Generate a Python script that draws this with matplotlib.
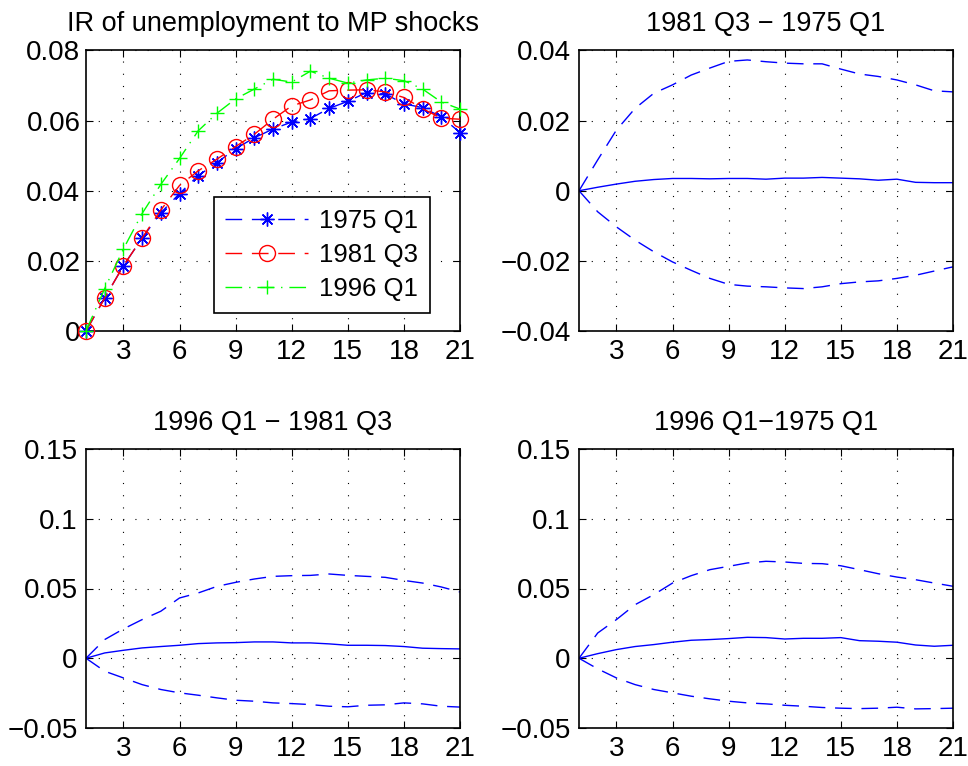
import numpy as np
import matplotlib
matplotlib.use("Agg")
import matplotlib.pyplot as plt

plt.rcParams['font.family'] = ['Liberation Sans', 'DejaVu Sans']
plt.rcParams['font.size'] = 19

# Horizon (quarters)
horizon = list(range(1, 22))

# Impulse responses of unemployment to a monetary policy shock
ir_1975q1 = [0.0, 0.0094, 0.0186, 0.0265, 0.0337, 0.0392, 0.0443, 0.0480, 0.0520, 0.0551,
             0.0576, 0.0596, 0.0606, 0.0635, 0.0655, 0.0680, 0.0676, 0.0648, 0.0637, 0.0611, 0.0566]
ir_1981q3 = [0.0, 0.0094, 0.0186, 0.0265, 0.0345, 0.0415, 0.0457, 0.0490, 0.0526, 0.0561,
             0.0604, 0.0642, 0.0659, 0.0685, 0.0687, 0.0688, 0.0682, 0.0666, 0.0634, 0.0607, 0.0604]
ir_1996q1 = [0.0, 0.0121, 0.0234, 0.0335, 0.0418, 0.0492, 0.0571, 0.0621, 0.0662, 0.0690,
             0.0718, 0.0710, 0.0741, 0.0721, 0.0707, 0.0716, 0.0721, 0.0714, 0.0690, 0.0653, 0.0633]

# 1981 Q3 - 1975 Q1: median difference and bands
d1_mid = [0.0, 0.0010, 0.0019, 0.0027, 0.0032, 0.0035, 0.0035, 0.0034, 0.0035, 0.0035,
          0.0033, 0.0036, 0.0036, 0.0038, 0.0036, 0.0034, 0.0030, 0.0033, 0.0024, 0.0023, 0.0023]
d1_hi = [0.0, 0.0088, 0.0173, 0.0235, 0.0278, 0.0302, 0.0330, 0.0350, 0.0369, 0.0373,
         0.0368, 0.0364, 0.0362, 0.0362, 0.0347, 0.0333, 0.0326, 0.0316, 0.0302, 0.0285, 0.0282]
d1_lo = [0.0, -0.0060, -0.0103, -0.0141, -0.0174, -0.0203, -0.0227, -0.0250, -0.0267, -0.0272,
         -0.0274, -0.0277, -0.0279, -0.0274, -0.0265, -0.0260, -0.0257, -0.0250, -0.0241, -0.0229, -0.0217]

# 1996 Q1 - 1981 Q3
d2_mid = [0.0, 0.0038, 0.0057, 0.0074, 0.0084, 0.0093, 0.0105, 0.0110, 0.0112, 0.0117,
          0.0117, 0.0110, 0.0110, 0.0103, 0.0093, 0.0093, 0.0091, 0.0084, 0.0072, 0.0069, 0.0067]
d2_hi = [0.0, 0.0134, 0.0210, 0.0277, 0.0337, 0.0432, 0.0468, 0.0515, 0.0544, 0.0568,
         0.0587, 0.0592, 0.0594, 0.0604, 0.0594, 0.0587, 0.0580, 0.0558, 0.0539, 0.0511, 0.0475]
d2_lo = [0.0, -0.0093, -0.0141, -0.0189, -0.0224, -0.0248, -0.0265, -0.0284, -0.0301, -0.0308,
         -0.0320, -0.0325, -0.0332, -0.0344, -0.0348, -0.0337, -0.0334, -0.0320, -0.0327, -0.0344, -0.0350]

# 1996 Q1 - 1975 Q1
d3_mid = [0.0, 0.0033, 0.0062, 0.0084, 0.0098, 0.0115, 0.0129, 0.0134, 0.0141, 0.0150,
          0.0148, 0.0138, 0.0143, 0.0143, 0.0148, 0.0126, 0.0122, 0.0115, 0.0095, 0.0086, 0.0093]
d3_hi = [0.0, 0.0181, 0.0277, 0.0384, 0.0456, 0.0539, 0.0592, 0.0635, 0.0659, 0.0683,
         0.0695, 0.0690, 0.0680, 0.0678, 0.0663, 0.0635, 0.0606, 0.0582, 0.0563, 0.0539, 0.0516]
d3_lo = [0.0, -0.0076, -0.0141, -0.0189, -0.0224, -0.0248, -0.0272, -0.0291, -0.0308, -0.0320,
         -0.0327, -0.0337, -0.0344, -0.0353, -0.0358, -0.0361, -0.0358, -0.0351, -0.0363, -0.0361, -0.0358]

# Axis ticks and labels
x_ticks = [3, 6, 9, 12, 15, 18, 21]
y_ticks_ir = [0.0, 0.02, 0.04, 0.06, 0.08]
y_labels_ir = ['0', '0.02', '0.04', '0.06', '0.08']
y_ticks_d1 = [-0.04, -0.02, 0.0, 0.02, 0.04]
y_labels_d1 = ['\u22120.04', '\u22120.02', '0', '0.02', '0.04']
y_ticks_d2 = [-0.05, 0.0, 0.05, 0.1, 0.15]
y_labels_d2 = ['\u22120.05', '0', '0.05', '0.1', '0.15']

titles = ['IR of unemployment to MP shocks', '1981 Q3 \u2212 1975 Q1',
          '1996 Q1 \u2212 1981 Q3', '1996 Q1\u22121975 Q1']
labels = ['1975 Q1', '1981 Q3', '1996 Q1']

fig = plt.figure(figsize=(9.68, 7.66), dpi=100)
W, H = 968, 766


def make_axes(l, r, t, b):
    return fig.add_axes([l / W, 1 - b / H, (r - l) / W, (b - t) / H])


ax1 = make_axes(86, 460, 50.5, 331)
ax2 = make_axes(579, 953, 50.5, 331)
ax3 = make_axes(86, 460, 449, 728)
ax4 = make_axes(579, 953, 449, 728)

dash_long = (0, (12, 7))
dash_dot = (0, (12, 5, 1, 5))
blue = '#0000ff'
red = '#ff0000'
green = '#00ff00'

asterisk = (8, 2, 0)
ax1.plot(horizon, ir_1975q1, linestyle=dash_long, color=blue, lw=1.0,
         marker=asterisk, markersize=10, markeredgewidth=1.0, label=labels[0],
         clip_on=False, zorder=4)
ax1.plot(horizon, ir_1981q3, linestyle=dash_long, color=red, lw=1.0,
         marker='o', markersize=11.5, markerfacecolor='none', markeredgewidth=1.0,
         label=labels[1], clip_on=False, zorder=4)
ax1.plot(horizon, ir_1996q1, linestyle=dash_dot, color=green, lw=1.0,
         marker='+', markersize=10, markeredgewidth=1.0, label=labels[2],
         clip_on=False, zorder=4)

for ax, mid, hi, lo in [(ax2, d1_mid, d1_hi, d1_lo),
                        (ax3, d2_mid, d2_hi, d2_lo),
                        (ax4, d3_mid, d3_hi, d3_lo)]:
    ax.plot(horizon, mid, '-', color=blue, lw=1.0)
    ax.plot(horizon, hi, linestyle=dash_long, color=blue, lw=1.0)
    ax.plot(horizon, lo, linestyle=dash_long, color=blue, lw=1.0)

for ax, yt, yl, title in [(ax1, y_ticks_ir, y_labels_ir, titles[0]),
                          (ax2, y_ticks_d1, y_labels_d1, titles[1]),
                          (ax3, y_ticks_d2, y_labels_d2, titles[2]),
                          (ax4, y_ticks_d2, y_labels_d2, titles[3])]:
    ax.set_xlim(1, 21)
    ax.set_ylim(yt[0], yt[-1])
    ax.set_xticks(x_ticks)
    ax.set_yticks(yt)
    ax.set_yticklabels(yl)
    ax.tick_params(direction='in', length=5, width=0.8, top=True, right=True,
                   labelsize=20, pad=6, colors='black')
    ax.grid(True, linestyle=(0, (1, 10)), color='black', linewidth=0.8)
    for s in ax.spines.values():
        s.set_linewidth(1.2)
    ax.set_title(title, fontsize=19.5, pad=14)

ax1.tick_params(axis='y', pad=4)

leg = ax1.legend(loc='lower left', bbox_to_anchor=(0.342, 0.065), fontsize=18.5,
                 frameon=True, fancybox=False, edgecolor='black', framealpha=1,
                 handlelength=3.2, handletextpad=0.45, labelspacing=0.4,
                 borderpad=0.45, borderaxespad=0)
leg.get_frame().set_linewidth(1.2)
leg.set_zorder(5)

fig.savefig('out.png', dpi=100)
